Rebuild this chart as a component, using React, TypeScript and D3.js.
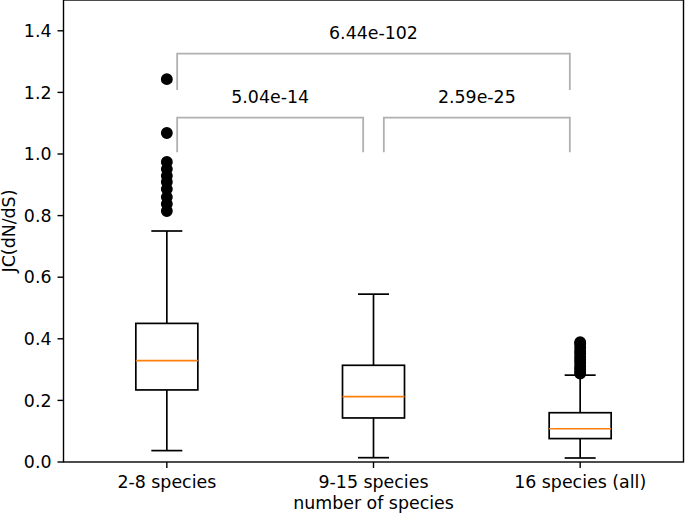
import React from "react";
import * as d3 from "d3";

const categories = ["2-8 species", "9-15 species", "16 species (all)"];
const whiskerLow = [0.037, 0.014, 0.013];
const q1 = [0.234, 0.143, 0.076];
const median = [0.329, 0.212, 0.108];
const q3 = [0.45, 0.314, 0.16];
const whiskerHigh = [0.75, 0.545, 0.282];
const outliers = [
  [1.243, 1.068, 0.974, 0.951, 0.929, 0.909, 0.886, 0.86, 0.838, 0.815],
  [],
  [0.389, 0.384, 0.372, 0.36, 0.352, 0.341, 0.332, 0.322, 0.311, 0.302, 0.294, 0.287],
];
const yTicks = [0, 0.2, 0.4, 0.6, 0.8, 1.0, 1.2, 1.4];
const bracketFrom = [1, 2, 1];
const bracketTo = [2, 3, 3];
const bracketTop = [1.118, 1.118, 1.326];
const bracketBottom = [1.006, 1.006, 1.208];
const bracketLabels = ["5.04e-14", "2.59e-25", "6.44e-102"];

const W = 685;
const H = 515;
const FONT = "DejaVu Sans";
const FS = 17.4;

export default function App() {
  const x = d3.scaleLinear().domain([0.5, 3.5]).range([63.5, 683.5]);
  const y = d3.scaleLinear().domain([0, 1.5]).range([462, 0]);
  const boxW = x(1.3) - x(1);
  const capW = boxW / 2;
  const lw = 1.7;
  const fmt = d3.format(".1f");
  const inset = 0.05;

  return (
    <svg
      width={W}
      height={H}
      style={{ position: "absolute", left: 0, top: 0, background: "#fff" }}
      fontFamily={FONT}
    >
      <rect x={0} y={0} width={W} height={H} fill="#fff" />
      {categories.map((c, i) => {
        const cx = x(i + 1);
        return (
          <g key={c}>
            <line x1={cx} x2={cx} y1={y(q3[i])} y2={y(whiskerHigh[i])} stroke="#000" strokeWidth={lw} />
            <line x1={cx} x2={cx} y1={y(q1[i])} y2={y(whiskerLow[i])} stroke="#000" strokeWidth={lw} />
            <line x1={cx - capW / 2} x2={cx + capW / 2} y1={y(whiskerHigh[i])} y2={y(whiskerHigh[i])} stroke="#000" strokeWidth={lw} />
            <line x1={cx - capW / 2} x2={cx + capW / 2} y1={y(whiskerLow[i])} y2={y(whiskerLow[i])} stroke="#000" strokeWidth={lw} />
            <rect
              x={cx - boxW / 2}
              y={y(q3[i])}
              width={boxW}
              height={y(q1[i]) - y(q3[i])}
              fill="none"
              stroke="#000"
              strokeWidth={lw}
            />
            <line x1={cx - boxW / 2} x2={cx + boxW / 2} y1={y(median[i])} y2={y(median[i])} stroke="#ff7f0e" strokeWidth={lw} />
            {outliers[i].map((v, j) => (
              <circle key={j} cx={cx} cy={y(v)} r={5.2} fill="#000" stroke="#000" strokeWidth={1.5} />
            ))}
          </g>
        );
      })}
      {bracketLabels.map((lab, k) => {
        const x1 = x(bracketFrom[k] + inset);
        const x2 = x(bracketTo[k] - inset);
        const yt = y(bracketTop[k]);
        const yb = y(bracketBottom[k]);
        return (
          <g key={lab}>
            <path
              d={`M${x1},${yb}L${x1},${yt}L${x2},${yt}L${x2},${yb}`}
              fill="none"
              stroke="#b0b0b0"
              strokeWidth={1.8}
            />
            <text x={(x1 + x2) / 2} y={yt - 14.5} textAnchor="middle" fontSize={FS} fill="#000">
              {lab}
            </text>
          </g>
        );
      })}
      <rect x={x(0.5)} y={y(1.5)} width={x(3.5) - x(0.5)} height={y(0) - y(1.5)} fill="none" stroke="#000" strokeWidth={1.4} />
      {yTicks.map((t) => (
        <g key={t}>
          <line x1={x(0.5) - 6} x2={x(0.5)} y1={y(t)} y2={y(t)} stroke="#000" strokeWidth={1.4} />
          <text x={x(0.5) - 12} y={y(t)} dy="0.36em" textAnchor="end" fontSize={FS} fill="#000">
            {fmt(t)}
          </text>
        </g>
      ))}
      {categories.map((c, i) => (
        <g key={c}>
          <line x1={x(i + 1)} x2={x(i + 1)} y1={y(0)} y2={y(0) + 6} stroke="#000" strokeWidth={1.4} />
          <text x={x(i + 1)} y={487.5} textAnchor="middle" fontSize={FS} fill="#000">
            {c}
          </text>
        </g>
      ))}
      <text x={(x(0.5) + x(3.5)) / 2} y={509} textAnchor="middle" fontSize={FS} fill="#000">
        number of species
      </text>
      <text
        transform={`translate(14.5,${(y(0) + y(1.5)) / 2}) rotate(-90)`}
        textAnchor="middle"
        fontSize={FS}
        fill="#000"
      >
        JC(dN/dS)
      </text>
    </svg>
  );
}
